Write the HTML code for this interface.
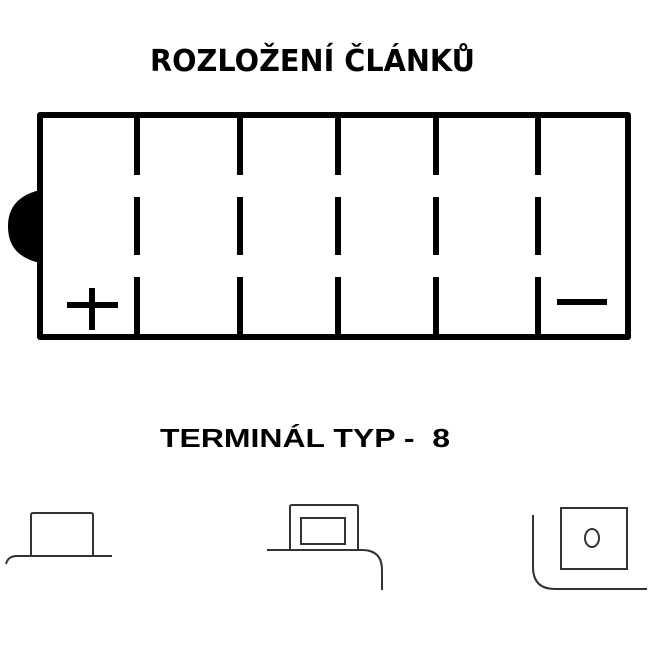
<!DOCTYPE html>
<html><head><style>html,body{margin:0;padding:0;background:#fff;}svg{display:block;}</style></head>
<body>
<svg width="650" height="650" viewBox="0 0 650 650" xmlns="http://www.w3.org/2000/svg">
<rect width="650" height="650" fill="#fff"/>
<text x="150" y="71" font-family="DejaVu Sans, Liberation Sans, sans-serif" font-weight="bold" font-size="30" textLength="325" lengthAdjust="spacingAndGlyphs" fill="#000">ROZLOŽENÍ ČLÁNKŮ</text>
<path d="M40,190 C14,196 8,212 8,226 C8,242 14,257 40,263 Z" fill="#000"/>
<rect x="40" y="115" width="588" height="222" fill="none" stroke="#000" stroke-width="6" stroke-linejoin="round"/>
<g stroke="#000" stroke-width="6" stroke-linecap="butt">
<path d="M137,115V175M137,197V255M137,277V337"/>
<path d="M240,115V175M240,197V255M240,277V337"/>
<path d="M338,115V175M338,197V255M338,277V337"/>
<path d="M436,115V175M436,197V255M436,277V337"/>
<path d="M538,115V175M538,197V255M538,277V337"/>
<path d="M67,305H118M92,288V330"/>
<path d="M557,302H607"/>
</g>
<text x="160" y="447" font-family="Liberation Sans, sans-serif" font-weight="bold" font-size="26" textLength="290" lengthAdjust="spacingAndGlyphs" fill="#000" xml:space="preserve">TERMINÁL TYP -  8</text>
<g fill="none" stroke="#333" stroke-width="2">
<path d="M31,556V515Q31,513 33,513H91Q93,513 93,515V556"/>
<path d="M6,564Q8,556 17,556H112"/>
<path d="M290,550V507Q290,505 292,505H356Q358,505 358,507V550"/>
<rect x="301" y="518" width="44" height="26"/>
<path d="M267,550H362Q382,550 382,570V590"/>
<rect x="561" y="508" width="66" height="61"/>
<ellipse cx="592" cy="538" rx="7" ry="9"/>
<path d="M533,515V567Q533,589 555,589H647"/>
</g>
</svg>
</body></html>
